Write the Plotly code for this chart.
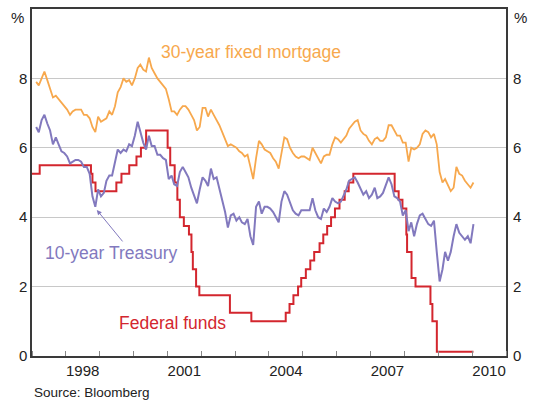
import pandas as pd
import plotly.graph_objects as go

# ---- data ----
month_dates = pd.date_range("1997-01-15", "2010-01-15", freq="MS") + pd.Timedelta(days=14)
month_dates = [d.strftime("%Y-%m-%d") for d in month_dates]

treasury_10y = [
    6.6, 6.45, 6.8, 6.95, 6.7, 6.5, 6.1, 6.3, 6.1, 5.9, 5.85, 5.75,
    5.55, 5.6, 5.65, 5.65, 5.6, 5.45, 5.45, 5.25, 4.6, 4.3, 4.8, 4.6,
    4.7, 5.05, 5.2, 5.2, 5.6, 5.95, 5.85, 5.95, 5.9, 6.1, 6.05, 6.35,
    6.75, 6.45, 6.15, 5.95, 6.35, 6.05, 6.05, 5.8, 5.8, 5.7, 5.65, 5.1,
    5.2, 4.95, 4.9, 5.3, 5.45, 5.3, 5.15, 4.85, 4.6, 4.4, 4.8, 5.15,
    5.05, 4.9, 5.4, 5.1, 5.15, 4.85, 4.5, 4.15, 3.7, 4.05, 4.1, 3.9,
    4.0, 3.85, 3.8, 3.95, 3.45, 3.2, 4.3, 4.45, 4.1, 4.3, 4.3, 4.25,
    4.15, 4.0, 3.85, 4.45, 4.75, 4.65, 4.45, 4.2, 4.1, 4.05, 4.2, 4.2,
    4.2, 4.2, 4.55, 4.2, 4.0, 3.95, 4.25, 4.15, 4.3, 4.55, 4.45, 4.4,
    4.45, 4.6, 4.8, 5.05, 5.1, 5.15, 5.0, 4.8, 4.65, 4.75, 4.55, 4.65,
    4.85, 4.55, 4.6, 4.7, 4.9, 5.15, 4.95, 4.6, 4.55, 4.45, 4.05, 4.2,
    3.6, 3.85, 3.45, 3.8, 4.05, 4.1, 3.95, 3.8, 3.75, 3.9, 3.0, 2.15,
    2.5, 3.0, 2.75, 3.0, 3.45, 3.8, 3.55, 3.45, 3.35, 3.45, 3.25, 3.8,
    3.6,
]

mortgage_30y = [
    7.9, 7.8, 8.0, 8.2, 7.95, 7.7, 7.45, 7.5, 7.4, 7.3, 7.2, 7.1,
    6.95, 7.05, 7.1, 7.1, 7.1, 6.95, 6.95, 6.85, 6.6, 6.45, 6.9, 6.75,
    6.8, 6.85, 7.05, 6.95, 7.2, 7.6, 7.75, 8.0, 7.9, 7.95, 7.8, 8.0,
    8.3, 8.4, 8.25, 8.2, 8.6, 8.3, 8.15, 8.0, 7.9, 7.8, 7.7, 7.4,
    7.05, 7.05, 6.95, 7.1, 7.2, 7.2, 7.1, 6.95, 6.8, 6.5, 6.6, 7.15,
    7.15, 6.9, 7.1, 6.95, 6.8, 6.65, 6.45, 6.25, 6.05, 6.1, 6.05, 6.0,
    5.9, 5.85, 5.75, 5.8, 5.45, 5.1, 5.7, 6.2, 6.1, 5.95, 5.9, 5.85,
    5.7, 5.6, 5.4, 5.85, 6.3, 6.25, 6.0, 5.85, 5.75, 5.7, 5.75, 5.75,
    5.7, 5.65, 6.0, 5.85, 5.7, 5.55, 5.75, 5.8, 5.8, 6.1, 6.3, 6.25,
    6.15, 6.25, 6.35, 6.55, 6.65, 6.75, 6.8, 6.5, 6.4, 6.35, 6.2, 6.1,
    6.25, 6.3, 6.2, 6.2, 6.3, 6.65, 6.65, 6.5, 6.35, 6.35, 6.15, 6.15,
    5.6, 6.0, 5.95, 6.0, 6.1, 6.4, 6.5, 6.45, 6.3, 6.4, 6.1, 5.3,
    5.0, 5.1, 4.9, 4.75, 4.85, 5.45, 5.25, 5.2, 5.05, 4.95, 4.85, 5.0,
    5.05,
]

fedfunds_dates = [
    "1997-01-01", "1997-03-25", "1998-09-29", "1998-10-15", "1998-11-17",
    "1999-06-30", "1999-08-24", "1999-11-16", "2000-02-02", "2000-03-21",
    "2000-05-16", "2001-01-03", "2001-01-31", "2001-03-20", "2001-04-18",
    "2001-05-15", "2001-06-27", "2001-08-21", "2001-09-17", "2001-10-02",
    "2001-11-06", "2001-12-11", "2002-11-06", "2003-06-25", "2004-06-30",
    "2004-08-10", "2004-09-21", "2004-11-10", "2004-12-14", "2005-02-02",
    "2005-03-22", "2005-05-03", "2005-06-30", "2005-08-09", "2005-09-20",
    "2005-11-01", "2005-12-13", "2006-01-31", "2006-03-28", "2006-05-10",
    "2006-06-29", "2007-09-18", "2007-10-31", "2007-12-11", "2008-01-22",
    "2008-01-30", "2008-03-18", "2008-04-30", "2008-10-08", "2008-10-29",
    "2008-12-16", "2010-01-15",
]
fedfunds_rate = [
    5.25, 5.5, 5.25, 5.0, 4.75,
    5.0, 5.25, 5.5, 5.75, 6.0,
    6.5, 6.0, 5.5, 5.0, 4.5,
    4.0, 3.75, 3.5, 3.0, 2.5,
    2.0, 1.75, 1.25, 1.0, 1.25,
    1.5, 1.75, 2.0, 2.25, 2.5,
    2.75, 3.0, 3.25, 3.5, 3.75,
    4.0, 4.25, 4.5, 4.75, 5.0,
    5.25, 4.75, 4.5, 4.25, 3.5,
    3.0, 2.25, 2.0, 1.5, 1.0,
    0.125, 0.125,
]

y_ticks = [0, 2, 4, 6, 8]
x_label_pos = ["1998-07-02", "2001-07-02", "2004-07-02", "2007-07-02", "2010-07-02"]
x_label_text = ["1998", "2001", "2004", "2007", "2010"]

# ---- styles ----
C_MORT = "#F7A84D"
C_TSY = "#8279BE"
C_FED = "#D3262E"
AXIS_C = "#3a3a3a"
FONT = "Liberation Sans, Arial, sans-serif"

fig = go.Figure()
fig.add_trace(go.Scatter(x=fedfunds_dates, y=fedfunds_rate, mode="lines",
                         line=dict(color=C_FED, width=2, shape="hv"), hoverinfo="skip"))
fig.add_trace(go.Scatter(x=month_dates, y=mortgage_30y, mode="lines",
                         line=dict(color=C_MORT, width=1.8), hoverinfo="skip"))
fig.add_trace(go.Scatter(x=month_dates, y=treasury_10y, mode="lines",
                         line=dict(color=C_TSY, width=2), hoverinfo="skip"))
# invisible trace to activate right axis
fig.add_trace(go.Scatter(x=[month_dates[0]], y=[0], yaxis="y2", mode="lines",
                         line=dict(width=0), hoverinfo="skip", showlegend=False))

fig.update_layout(
    width=536, height=403,
    margin=dict(l=32, r=30, t=7, b=47),
    paper_bgcolor="white", plot_bgcolor="white",
    showlegend=False,
    font=dict(family=FONT, size=15, color="#222"),
    xaxis=dict(
        type="date", range=["1997-01-01", "2011-01-01"],
        tickvals=x_label_pos, ticktext=x_label_text, ticks="",
        showgrid=False, zeroline=False,
        showline=True, linecolor=AXIS_C, linewidth=1.5, mirror=True,
        tickfont=dict(size=15, color="#222"),
        minor=dict(ticks="inside", ticklen=5, tickwidth=1, tickcolor="#888",
                   tick0="1998-01-01", dtick="M12", showgrid=False),
    ),
    yaxis=dict(
        range=[0, 10], tickvals=y_ticks, ticks="",
        showgrid=True, gridcolor="#C8C8C8", gridwidth=1, zeroline=False,
        showline=True, linecolor=AXIS_C, linewidth=1.5, mirror=True,
        tickfont=dict(size=15, color="#222"),
    ),
    yaxis2=dict(
        range=[0, 10], tickvals=y_ticks, ticks="", overlaying="y", side="right",
        showgrid=False, zeroline=False, showline=False, ticklabelstandoff=6,
        tickfont=dict(size=15, color="#222"),
    ),
)

ann = [
    dict(text="%", xref="paper", yref="y", x=0, y=9.75, xanchor="right", xshift=-6,
         showarrow=False, font=dict(size=15, color="#222")),
    dict(text="%", xref="paper", yref="y", x=1, y=9.75, xanchor="left", xshift=6,
         showarrow=False, font=dict(size=15, color="#222")),
    dict(text="30-year fixed mortgage", xref="x", yref="y", x="2000-10-05", y=8.77,
         xanchor="left", yanchor="middle", showarrow=False, font=dict(size=17.5, color=C_MORT)),
    dict(text="10-year Treasury", xref="x", yref="y", x="1997-04-25", y=2.98,
         xanchor="left", yanchor="middle", showarrow=False, font=dict(size=17.5, color=C_TSY)),
    dict(text="Federal funds", xref="x", yref="y", x="1999-07-10", y=0.95,
         xanchor="left", yanchor="middle", showarrow=False, font=dict(size=17.5, color=C_FED)),
    dict(text="", xref="x", yref="y", x="1998-12-01", y=4.21, ax=27, ay=33,
         showarrow=True, arrowhead=2, arrowsize=1, arrowwidth=1, arrowcolor=C_TSY),
    dict(text="Source: Bloomberg", xref="paper", yref="paper", x=0, y=-0.106,
         xanchor="left", yanchor="middle", showarrow=False, font=dict(size=13.5, color="#222")),
]
fig.update_layout(annotations=ann)

fig.write_html("out.html", config={"displayModeBar": False},
               post_script="document.body.style.margin='0';")
